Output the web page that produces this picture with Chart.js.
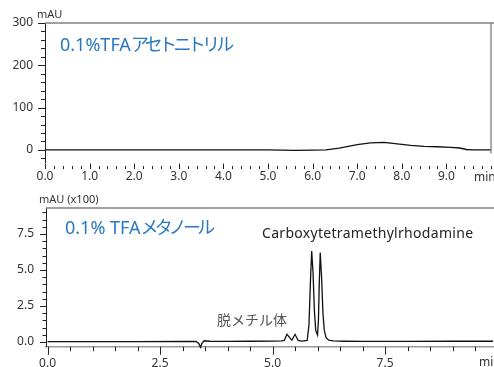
<!DOCTYPE html>
<html lang="ja">
<head>
<meta charset="utf-8">
<title>クロマトグラム比較</title>
<script src="https://cdn.jsdelivr.net/npm/chart.js@4.4.1/dist/chart.umd.min.js"></script>
<style>
  html, body { margin: 0; padding: 0; background: #fff; overflow: hidden; }
  #wrap { position: relative; width: 494px; height: 367px; overflow: hidden; }
  canvas { position: absolute; left: 0; }
  #acnChart  { top: 0; }
  #meohChart { top: 185px; }
  .lbl { position: absolute; white-space: nowrap; line-height: 1;
         font-family: "Noto Sans", "Noto Sans CJK JP", sans-serif; }
  .unit  { font-size: 11px; color: #333; }
  .title { font-size: 18px; color: #2a79c0; }
  .title .kana { font-family: "Noto Sans CJK JP", sans-serif; letter-spacing: -3.7px; }
  .peak  { font-size: 14px; color: #222; letter-spacing: 0.3px; }
  .jp    { font-family: "Noto Sans CJK JP", sans-serif; font-size: 14px; color: #555; }
</style>
</head>
<body>
<div id="wrap">
  <canvas id="acnChart" width="494" height="185"></canvas>
  <canvas id="meohChart" width="494" height="182"></canvas>

  <div class="lbl unit" style="left:37px;top:8px">mAU</div>
  <div class="lbl title" style="left:60px;top:34px">0.1%TFA<span class="kana">アセトニトリル</span></div>
  <div class="lbl unit" style="left:474px;top:171px;font-size:12px">min</div>

  <div class="lbl unit" style="left:39px;top:193px">mAU (x100)</div>
  <div class="lbl title" style="left:65px;top:217px">0.1% TFA<span class="kana">メタノール</span></div>
  <div class="lbl peak" style="left:262px;top:226px">Carboxytetramethylrhodamine</div>
  <div class="lbl jp" style="left:217px;top:312px">脱メチル体</div>
  <div class="lbl unit" style="left:479px;top:356px;font-size:12px">min</div>
</div>

<script>
// 0.1%TFA / acetonitrile run (mAU vs min)
const acnTime = [0, 1, 2, 3, 4, 5, 5.3, 5.6, 6.0, 6.3, 6.6, 7.0, 7.3, 7.6, 7.9, 8.2, 8.5, 8.8, 9.1, 9.3, 9.45, 9.6, 10];
const acnMAU  = [0, 0, 0, 0, 0, 0, -0.5, -1.2, -0.6, 0, 4, 12.5, 16.5, 18, 14.5, 10.5, 8.5, 7.5, 6, 4.5, 1, 0, 0];

// 0.1% TFA / methanol run (mAU x100 vs min)
const meohTime = [0, 1, 2, 3, 3.3, 3.36, 3.4, 3.43, 3.48, 3.6, 4, 4.5, 5, 5.2, 5.26, 5.32, 5.38, 5.43, 5.5, 5.57, 5.65,
                  5.77, 5.81, 5.84, 5.87, 5.9, 5.93, 5.96, 6.0, 6.02, 6.04, 6.06, 6.09, 6.12, 6.15, 6.19, 6.25, 6.35,
                  6.6, 7, 8, 9, 9.9];
const meohMAU  = [0.02, 0.02, 0.02, 0.03, 0.03, -0.1, -0.37, -0.1, 0.08, 0.05, 0.04, 0.05, 0.06, 0.07, 0.1, 0.53, 0.3, 0.12, 0.53, 0.1, 0.06,
                  0.1, 1.2, 4.0, 6.32, 4.8, 2.2, 0.8, 0.48, 1.5, 4.2, 6.2, 4.5, 2.0, 0.8, 0.3, 0.12, 0.07,
                  0.05, 0.04, 0.04, 0.05, 0.05];

// tick labels
const acnXTicks  = [0, 1, 2, 3, 4, 5, 6, 7, 8, 9];
const acnYTicks  = [0, 100, 200, 300];
const meohXTicks = [0, 2.5, 5, 7.5];
const meohYTicks = [0, 2.5, 5, 7.5];

const FONT = '"Noto Sans", "Noto Sans CJK JP", sans-serif';

const isMajor = (v, list) => list.some(t => Math.abs(t - v) < 1e-6);

// draws major/minor tick marks and the grey frame lines
const axisMarks = {
  id: 'axisMarks',
  afterDraw(chart, args, o) {
    const { ctx, chartArea: a, scales: { x, y } } = chart;
    const line = (x1, y1, x2, y2) => { ctx.beginPath(); ctx.moveTo(x1, y1); ctx.lineTo(x2, y2); ctx.stroke(); };
    ctx.save();
    ctx.lineWidth = 1;
    ctx.strokeStyle = '#222';

    for (let i = 0; ; i++) {
      const v = o.yStart + i * o.yStep;
      if (v > y.max + 1e-9) break;
      const py = Math.round(y.getPixelForValue(v)) + 0.5;
      line(a.left - (isMajor(v, o.yTicks) ? o.yMajor : o.yMinor), py, a.left, py);
    }
    for (let i = 0; ; i++) {
      const v = o.xStart + i * o.xStep;
      if (v > x.max + 1e-9) break;
      const px = Math.round(x.getPixelForValue(v)) + 0.5;
      const len = isMajor(v, o.xTicks) ? o.xMajor : o.xMinor;
      if (o.xUp) line(px, a.bottom + o.xBase, px, a.bottom + o.xBase - len);
      else line(px, a.bottom, px, a.bottom + len);
    }

    ctx.strokeStyle = '#808080';
    ctx.lineWidth = 1.3;
    line(a.left, a.top, chart.width, a.top);
    if (o.rightEdge) line(a.right, a.top, a.right, a.bottom - 9);
    ctx.restore();
  }
};

function makeChart(id, time, values, o) {
  return new Chart(document.getElementById(id), {
    type: 'scatter',
    data: {
      datasets: [{
        data: time.map((t, i) => ({ x: t, y: values[i] })),
        showLine: true,
        borderColor: '#111',
        borderWidth: 1.3,
        pointRadius: 0,
        tension: 0,
        clip: false
      }]
    },
    options: {
      responsive: false,
      animation: false,
      events: [],
      layout: { padding: { top: o.padTop, right: o.padRight, left: 0, bottom: 0 } },
      plugins: { legend: { display: false }, tooltip: { enabled: false }, axisMarks: o.marks },
      scales: {
        x: {
          type: 'linear', min: o.xMin, max: o.xMax,
          afterFit: s => { s.height = o.xHeight; },
          afterBuildTicks: s => { s.ticks = o.marks.xTicks.map(v => ({ value: v })); },
          grid: { display: true, drawOnChartArea: false, tickLength: o.xGap, tickColor: 'transparent' },
          border: o.xBorder,
          ticks: { padding: 2, maxRotation: 0, autoSkip: false, color: '#333', font: { family: FONT, size: 12 },
                   callback: v => v.toFixed(1) }
        },
        y: {
          min: o.yMin, max: o.yMax,
          afterFit: s => { s.width = o.yWidth; },
          afterBuildTicks: s => { s.ticks = o.marks.yTicks.map(v => ({ value: v })); },
          grid: { display: true, drawOnChartArea: false, tickLength: 7, tickColor: 'transparent' },
          border: { display: true, color: '#222', width: 1 },
          ticks: { padding: 5, color: '#333', font: { family: FONT, size: 12 }, callback: o.yFormat }
        }
      }
    },
    plugins: [axisMarks]
  });
}

makeChart('acnChart', acnTime, acnMAU, {
  padTop: 23, padRight: 3, xMin: 0, xMax: 10, yMin: -30, yMax: 300,
  xHeight: 22.4, yWidth: 45, xGap: 5,
  xBorder: { display: false },
  yFormat: v => String(v),
  marks: { yTicks: acnYTicks, yStart: -20, yStep: 20, yMajor: 7, yMinor: 4,
           xTicks: acnXTicks, xStart: 0, xStep: 0.2, xMajor: 5.5, xMinor: 3, xUp: true, xBase: 6.5, rightEdge: true }
});

makeChart('meohChart', meohTime, meohMAU, {
  padTop: 23, padRight: 1, xMin: -0.035, xMax: 9.9, yMin: -0.33, yMax: 9.3,
  xHeight: 20.3, yWidth: 46, xGap: 8,
  xBorder: { display: true, color: '#999', width: 1.5 },
  yFormat: v => v.toFixed(1),
  marks: { yTicks: meohYTicks, yStart: 0, yStep: 0.5, yMajor: 6, yMinor: 3.5,
           xTicks: meohXTicks, xStart: 0, xStep: 0.5, xMajor: 8, xMinor: 4.5, xUp: false, rightEdge: false }
});
</script>
</body>
</html>
